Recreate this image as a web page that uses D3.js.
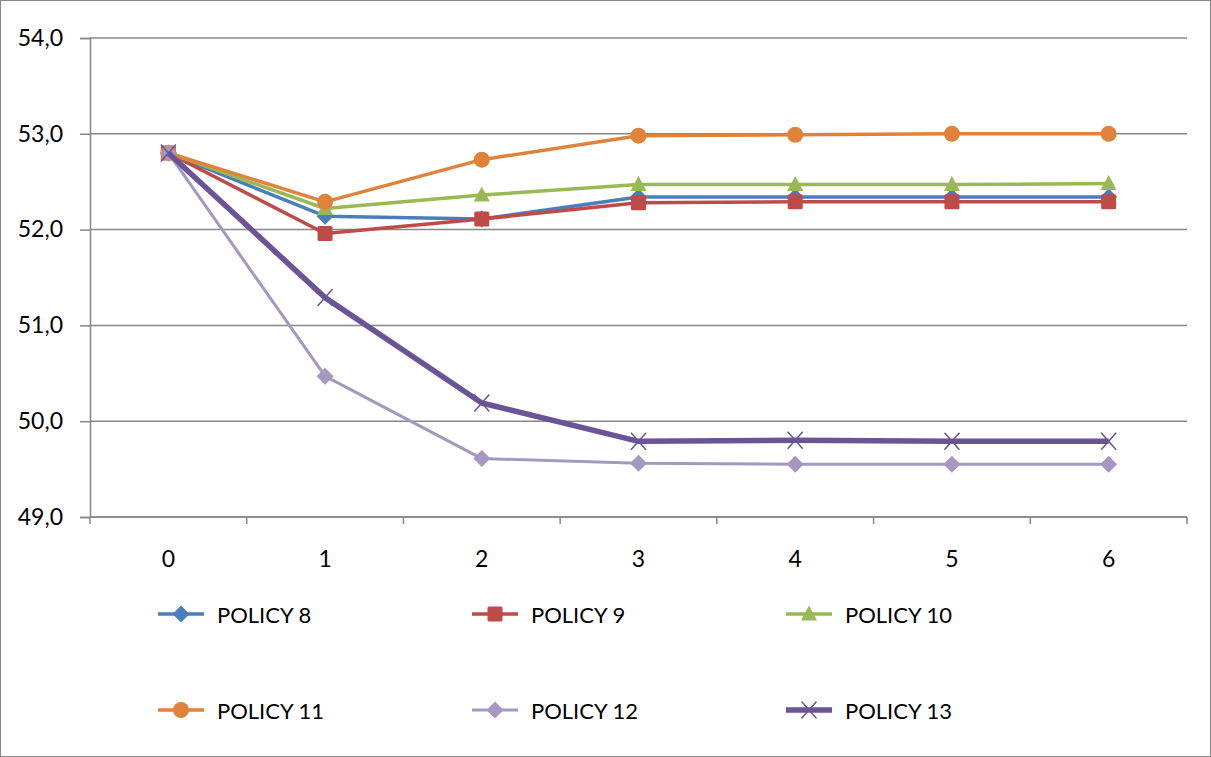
<!DOCTYPE html>
<html>
<head>
<meta charset="utf-8">
<script src="https://cdn.jsdelivr.net/npm/d3@7"></script>
<style>
  body { margin: 0; background: #fff; }
  text { font-family: Lato, "Open Sans", sans-serif; fill: #000; }
</style>
</head>
<body>
<script>
// data
const steps = ["0", "1", "2", "3", "4", "5", "6"];
const yTicks = [49, 50, 51, 52, 53, 54];
const policy8  = [52.80, 52.14, 52.11, 52.34, 52.34, 52.34, 52.34];
const policy9  = [52.80, 51.96, 52.11, 52.28, 52.29, 52.29, 52.29];
const policy10 = [52.80, 52.22, 52.36, 52.47, 52.47, 52.47, 52.48];
const policy11 = [52.80, 52.29, 52.73, 52.98, 52.99, 53.00, 53.00];
const policy12 = [52.80, 50.47, 49.61, 49.56, 49.55, 49.55, 49.55];
const policy13 = [52.80, 51.29, 50.19, 49.79, 49.80, 49.79, 49.79];

const series = [
  {name: "POLICY 8",  values: policy8,  color: "#4A7EBB", width: 3.5, marker: "diamond"},
  {name: "POLICY 9",  values: policy9,  color: "#BE4B48", width: 3.5, marker: "square"},
  {name: "POLICY 10", values: policy10, color: "#98B954", width: 3.5, marker: "triangle"},
  {name: "POLICY 11", values: policy11, color: "#E0823A", width: 3.5, marker: "circle"},
  {name: "POLICY 12", values: policy12, color: "#A598C0", width: 3, marker: "diamond"},
  {name: "POLICY 13", values: policy13, color: "#6A5496", width: 5.5, marker: "x"}
];

const W = 1211, H = 757;
const margin = {top: 38, right: 24, bottom: 240, left: 90};
const width = W - margin.left - margin.right,
      height = H - margin.top - margin.bottom;

const root = d3.select("body").append("svg")
    .attr("width", W)
    .attr("height", H);

// outer frame
root.append("rect")
    .attr("x", 0.5).attr("y", 0.5)
    .attr("width", W - 1).attr("height", H - 1)
    .attr("fill", "#fff")
    .attr("stroke", "#878787");

const svg = root.append("g")
    .attr("transform", `translate(${margin.left},${margin.top})`);

const x = d3.scaleBand().domain(steps).range([0, width]);
const y = d3.scaleLinear().domain([49, 54]).range([height, 0]);

// gridlines
svg.append("g")
    .selectAll("line")
    .data(yTicks)
    .enter().append("line")
    .attr("x1", 0).attr("x2", width)
    .attr("y1", d => y(d)).attr("y2", d => y(d))
    .attr("stroke", "#878787")
    .attr("stroke-width", 1.5);

// y axis
const yAxis = svg.append("g")
    .call(d3.axisLeft(y).tickValues(yTicks).tickSize(10).tickPadding(17)
        .tickFormat(d => d3.format(".1f")(d).replace(".", ",")));
yAxis.select(".domain").attr("stroke", "#878787").attr("stroke-width", 1.5);
yAxis.selectAll(".tick line").attr("stroke", "#878787").attr("stroke-width", 1.5);
yAxis.selectAll("text").style("font-size", "23px").attr("fill", "#000");

// x axis with ticks at category boundaries
const xAxis = svg.append("g").attr("transform", `translate(0,${height})`);
xAxis.append("line")
    .attr("x1", 0).attr("x2", width)
    .attr("stroke", "#878787").attr("stroke-width", 1.5);
xAxis.selectAll(".bt")
    .data(d3.range(steps.length + 1))
    .enter().append("line")
    .attr("x1", i => i * x.bandwidth()).attr("x2", i => i * x.bandwidth())
    .attr("y1", 0).attr("y2", 7)
    .attr("stroke", "#878787").attr("stroke-width", 1.5);
xAxis.selectAll("text")
    .data(steps)
    .enter().append("text")
    .attr("x", d => x(d) + x.bandwidth() / 2)
    .attr("y", 50)
    .attr("text-anchor", "middle")
    .style("font-size", "23px")
    .text(d => d);

// marker drawing
function drawMarker(g, type, color) {
  if (type === "diamond") {
    g.append("path").attr("d", "M0,-8.5L8.5,0L0,8.5L-8.5,0Z").attr("fill", color);
  } else if (type === "square") {
    g.append("rect").attr("x", -7.5).attr("y", -7.5).attr("width", 15).attr("height", 15)
        .attr("rx", 1.5).attr("fill", color);
  } else if (type === "triangle") {
    g.append("path").attr("d", "M0,-8.5L8,6.5L-8,6.5Z").attr("fill", color);
  } else if (type === "circle") {
    g.append("circle").attr("r", 8).attr("fill", color);
  } else if (type === "x") {
    g.append("path").attr("d", "M-7.5,-8.5L7.5,8.5M-7.5,8.5L7.5,-8.5")
        .attr("stroke", color).attr("stroke-width", 1.5).attr("fill", "none");
  }
}

const line = d3.line()
    .x((d, i) => x(steps[i]) + x.bandwidth() / 2)
    .y(d => y(d));

series.forEach(s => {
  svg.append("path")
      .datum(s.values)
      .attr("d", line)
      .attr("fill", "none")
      .attr("stroke", s.color)
      .attr("stroke-width", s.width)
      .attr("stroke-linejoin", "round");
  s.values.forEach((v, i) => {
    const g = svg.append("g")
        .attr("transform", `translate(${x(steps[i]) + x.bandwidth() / 2},${y(v)})`);
    drawMarker(g, s.marker, s.color);
  });
});

// legend: 3 columns, 2 rows
const legCols = [158, 472, 786], legRows = [614, 710];
series.forEach((s, i) => {
  const lx = legCols[i % 3], ly = legRows[Math.floor(i / 3)];
  const g = root.append("g").attr("transform", `translate(${lx},${ly})`);
  g.append("line")
      .attr("x1", 0).attr("x2", 46)
      .attr("stroke", s.color).attr("stroke-width", s.width);
  drawMarker(g.append("g").attr("transform", "translate(23,0)"), s.marker, s.color);
  g.append("text")
      .attr("x", 59).attr("y", 9)
      .style("font-size", "22px")
      .text(s.name);
});
</script>
</body>
</html>
